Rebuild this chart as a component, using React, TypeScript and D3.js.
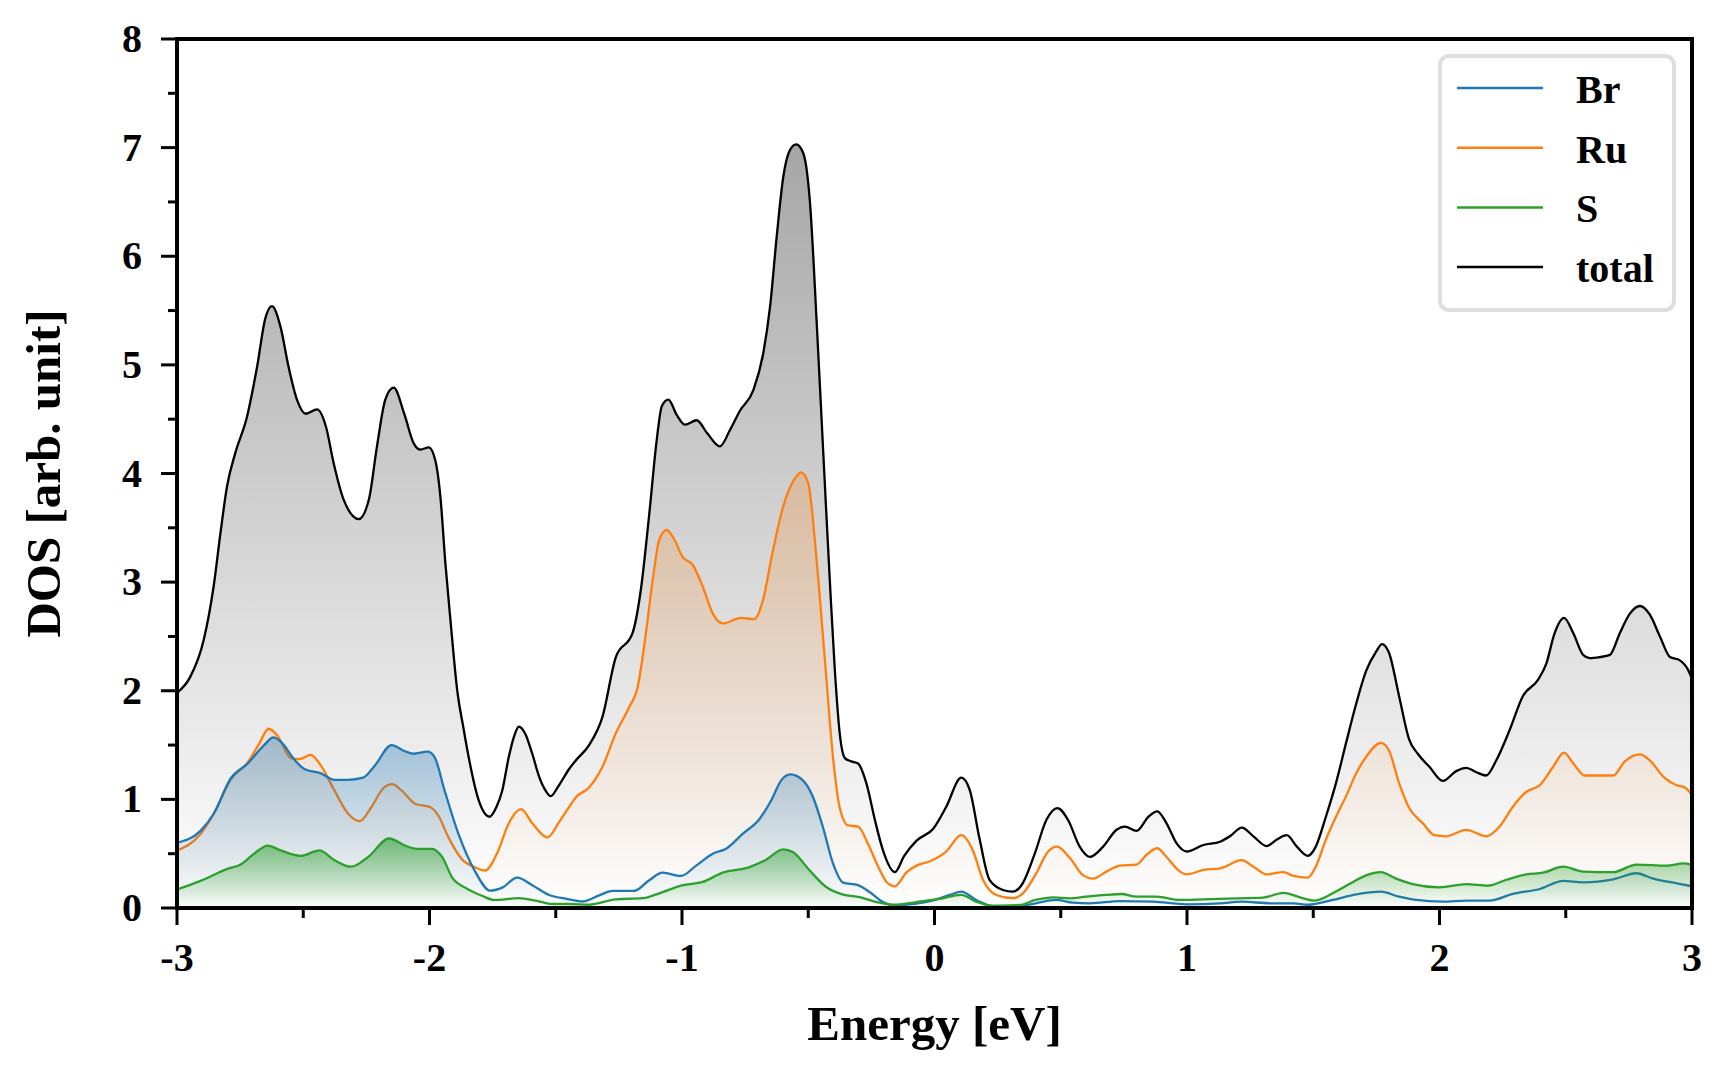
import React from "react";
import * as d3 from "d3";

// ---------- data (Energy [eV], DOS) ----------
const totalDos: [number, number][] = [
  [-3.0, 1.98], [-2.947, 2.13], [-2.894, 2.47], [-2.855, 2.96], [-2.828, 3.45], [-2.802, 3.88],
  [-2.769, 4.19], [-2.723, 4.52], [-2.683, 4.98], [-2.65, 5.43], [-2.624, 5.54], [-2.59, 5.35],
  [-2.558, 4.98], [-2.525, 4.68], [-2.49, 4.55], [-2.445, 4.59], [-2.41, 4.43], [-2.38, 4.1],
  [-2.34, 3.76], [-2.28, 3.58], [-2.24, 3.76], [-2.208, 4.25], [-2.175, 4.68], [-2.142, 4.79],
  [-2.1, 4.55], [-2.063, 4.28], [-2.036, 4.22], [-2.003, 4.24], [-1.977, 4.12], [-1.957, 3.79],
  [-1.937, 3.17], [-1.917, 2.65], [-1.89, 2.0], [-1.865, 1.65], [-1.845, 1.39], [-1.805, 0.99],
  [-1.762, 0.84], [-1.735, 0.93], [-1.712, 1.08], [-1.686, 1.39], [-1.665, 1.58], [-1.646, 1.67],
  [-1.62, 1.6], [-1.593, 1.42], [-1.566, 1.21], [-1.54, 1.08], [-1.52, 1.03], [-1.49, 1.12],
  [-1.447, 1.28], [-1.42, 1.36], [-1.368, 1.5], [-1.315, 1.76], [-1.262, 2.31], [-1.196, 2.53],
  [-1.163, 2.93], [-1.13, 3.62], [-1.1, 4.31], [-1.08, 4.62], [-1.054, 4.68], [-1.021, 4.54],
  [-0.988, 4.45], [-0.942, 4.49], [-0.9, 4.37], [-0.85, 4.25], [-0.81, 4.4], [-0.77, 4.58],
  [-0.717, 4.77], [-0.678, 5.11], [-0.651, 5.54], [-0.625, 6.18], [-0.599, 6.73], [-0.572, 6.98],
  [-0.548, 7.03], [-0.52, 6.95], [-0.493, 6.49], [-0.467, 5.41], [-0.447, 4.49], [-0.427, 3.57],
  [-0.412, 2.9], [-0.395, 2.2], [-0.375, 1.6], [-0.355, 1.38], [-0.33, 1.35], [-0.303, 1.33],
  [-0.27, 1.15], [-0.235, 0.8], [-0.204, 0.53], [-0.157, 0.33], [-0.12, 0.48], [-0.071, 0.62],
  [-0.005, 0.73], [0.046, 0.93], [0.106, 1.2], [0.139, 1.09], [0.179, 0.63], [0.218, 0.26],
  [0.271, 0.166], [0.31, 0.15], [0.35, 0.23], [0.397, 0.5], [0.443, 0.81], [0.487, 0.92],
  [0.529, 0.81], [0.575, 0.565], [0.615, 0.47], [0.668, 0.565], [0.721, 0.72], [0.754, 0.75],
  [0.8, 0.71], [0.847, 0.84], [0.882, 0.89], [0.919, 0.78], [0.959, 0.595], [0.999, 0.52],
  [1.065, 0.58], [1.131, 0.61], [1.17, 0.66], [1.217, 0.74], [1.263, 0.66], [1.316, 0.57],
  [1.356, 0.63], [1.395, 0.67], [1.435, 0.565], [1.478, 0.48], [1.51, 0.565], [1.55, 0.84],
  [1.59, 1.15], [1.63, 1.52], [1.67, 1.88], [1.709, 2.18], [1.749, 2.36], [1.772, 2.43],
  [1.8, 2.35], [1.84, 1.95], [1.88, 1.55], [1.914, 1.42], [1.96, 1.3], [2.013, 1.17],
  [2.066, 1.26], [2.106, 1.29], [2.146, 1.25], [2.185, 1.22], [2.225, 1.36], [2.278, 1.64],
  [2.33, 1.95], [2.39, 2.1], [2.423, 2.25], [2.456, 2.53], [2.493, 2.67], [2.53, 2.53],
  [2.569, 2.33], [2.595, 2.3], [2.635, 2.31], [2.675, 2.33], [2.714, 2.53], [2.754, 2.71],
  [2.794, 2.78], [2.833, 2.7], [2.873, 2.5], [2.913, 2.31], [2.952, 2.28], [2.985, 2.19],
  [3.0, 2.11],
];

const ruDos: [number, number][] = [
  [-3.0, 0.53], [-2.907, 0.68], [-2.854, 0.87], [-2.788, 1.18], [-2.72, 1.34], [-2.675, 1.51],
  [-2.637, 1.65], [-2.6, 1.58], [-2.549, 1.38], [-2.515, 1.37], [-2.47, 1.41], [-2.43, 1.31],
  [-2.376, 1.08], [-2.323, 0.87], [-2.277, 0.8], [-2.23, 0.93], [-2.184, 1.1], [-2.148, 1.14],
  [-2.11, 1.08], [-2.057, 0.96], [-1.998, 0.93], [-1.965, 0.85], [-1.925, 0.65], [-1.872, 0.45],
  [-1.82, 0.375], [-1.78, 0.345], [-1.733, 0.5], [-1.686, 0.78], [-1.637, 0.91], [-1.593, 0.78],
  [-1.533, 0.65], [-1.487, 0.79], [-1.447, 0.93], [-1.42, 1.02], [-1.368, 1.11], [-1.315, 1.3],
  [-1.262, 1.61], [-1.209, 1.85], [-1.176, 2.03], [-1.143, 2.53], [-1.116, 3.02], [-1.09, 3.39],
  [-1.061, 3.48], [-1.03, 3.39], [-0.997, 3.23], [-0.958, 3.16], [-0.918, 2.96], [-0.878, 2.71],
  [-0.839, 2.62], [-0.766, 2.67], [-0.713, 2.66], [-0.68, 2.83], [-0.64, 3.29], [-0.6, 3.69],
  [-0.554, 3.95], [-0.528, 4.01], [-0.5, 3.91], [-0.468, 3.23], [-0.435, 2.31], [-0.402, 1.39],
  [-0.376, 0.93], [-0.342, 0.76], [-0.303, 0.75], [-0.263, 0.59], [-0.223, 0.38], [-0.19, 0.24],
  [-0.157, 0.2], [-0.11, 0.33], [-0.071, 0.39], [-0.018, 0.43], [0.046, 0.52], [0.106, 0.67],
  [0.152, 0.53], [0.192, 0.26], [0.245, 0.12], [0.31, 0.09], [0.35, 0.135], [0.403, 0.32],
  [0.45, 0.52], [0.485, 0.565], [0.536, 0.46], [0.589, 0.3], [0.628, 0.27], [0.681, 0.335],
  [0.734, 0.39], [0.8, 0.4], [0.84, 0.49], [0.882, 0.55], [0.919, 0.47], [0.972, 0.335],
  [0.999, 0.31], [1.065, 0.35], [1.131, 0.365], [1.217, 0.44], [1.263, 0.38], [1.316, 0.31],
  [1.382, 0.33], [1.422, 0.295], [1.478, 0.28], [1.51, 0.38], [1.55, 0.63], [1.59, 0.84],
  [1.63, 1.03], [1.67, 1.24], [1.709, 1.39], [1.768, 1.52], [1.8, 1.45], [1.84, 1.15],
  [1.88, 0.92], [1.934, 0.78], [1.98, 0.67], [2.026, 0.66], [2.106, 0.72], [2.185, 0.66],
  [2.238, 0.75], [2.29, 0.93], [2.344, 1.07], [2.397, 1.13], [2.45, 1.3], [2.493, 1.43],
  [2.53, 1.33], [2.575, 1.22], [2.635, 1.22], [2.688, 1.22], [2.734, 1.35], [2.794, 1.415],
  [2.833, 1.36], [2.886, 1.21], [2.94, 1.13], [2.972, 1.11], [3.0, 1.04],
];

const brDos: [number, number][] = [
  [-3.0, 0.6], [-2.907, 0.71], [-2.854, 0.87], [-2.788, 1.19], [-2.72, 1.33], [-2.655, 1.5],
  [-2.618, 1.57], [-2.58, 1.51], [-2.54, 1.38], [-2.496, 1.28], [-2.43, 1.24], [-2.376, 1.18],
  [-2.323, 1.18], [-2.263, 1.2], [-2.217, 1.31], [-2.15, 1.5], [-2.104, 1.45], [-2.064, 1.42],
  [-2.007, 1.44], [-1.98, 1.39], [-1.94, 1.08], [-1.885, 0.68], [-1.82, 0.34], [-1.76, 0.16],
  [-1.71, 0.19], [-1.653, 0.28], [-1.593, 0.21], [-1.526, 0.12], [-1.46, 0.086], [-1.394, 0.06],
  [-1.328, 0.117], [-1.275, 0.157], [-1.19, 0.157], [-1.13, 0.255], [-1.077, 0.325], [-1.004, 0.295],
  [-0.944, 0.39], [-0.878, 0.5], [-0.825, 0.546], [-0.759, 0.684], [-0.693, 0.82], [-0.647, 0.99],
  [-0.607, 1.175], [-0.571, 1.23], [-0.521, 1.175], [-0.481, 1.02], [-0.442, 0.746], [-0.402, 0.41],
  [-0.362, 0.233], [-0.303, 0.21], [-0.257, 0.147], [-0.204, 0.055], [-0.164, 0.025], [-0.071, 0.04],
  [-0.005, 0.07], [0.06, 0.12], [0.106, 0.15], [0.165, 0.074], [0.23, 0.02], [0.337, 0.02],
  [0.4, 0.043], [0.48, 0.074], [0.549, 0.049], [0.615, 0.043], [0.734, 0.064], [0.866, 0.058],
  [0.999, 0.034], [1.131, 0.043], [1.217, 0.058], [1.33, 0.043], [1.422, 0.043], [1.48, 0.03],
  [1.577, 0.074], [1.67, 0.126], [1.768, 0.15], [1.84, 0.104], [1.907, 0.074], [2.013, 0.058],
  [2.106, 0.068], [2.198, 0.068], [2.29, 0.13], [2.397, 0.175], [2.49, 0.25], [2.569, 0.236],
  [2.688, 0.264], [2.78, 0.32], [2.846, 0.27], [2.94, 0.227], [3.0, 0.2],
];

const sDos: [number, number][] = [
  [-3.0, 0.17], [-2.907, 0.25], [-2.8, 0.36], [-2.748, 0.4], [-2.695, 0.5], [-2.64, 0.575],
  [-2.59, 0.53], [-2.51, 0.48], [-2.436, 0.53], [-2.376, 0.44], [-2.31, 0.38], [-2.243, 0.47],
  [-2.16, 0.64], [-2.097, 0.575], [-2.05, 0.545], [-1.99, 0.545], [-1.95, 0.47], [-1.91, 0.28],
  [-1.857, 0.185], [-1.79, 0.11], [-1.745, 0.074], [-1.646, 0.09], [-1.58, 0.068], [-1.513, 0.037],
  [-1.447, 0.037], [-1.368, 0.03], [-1.262, 0.08], [-1.156, 0.09], [-1.077, 0.147], [-0.997, 0.21],
  [-0.918, 0.24], [-0.839, 0.325], [-0.733, 0.377], [-0.667, 0.445], [-0.6, 0.54], [-0.561, 0.515],
  [-0.495, 0.347], [-0.429, 0.193], [-0.362, 0.123], [-0.296, 0.1], [-0.23, 0.055], [-0.164, 0.03],
  [-0.071, 0.055], [0.02, 0.083], [0.106, 0.12], [0.165, 0.058], [0.23, 0.02], [0.337, 0.028],
  [0.4, 0.074], [0.47, 0.098], [0.536, 0.089], [0.6, 0.104], [0.68, 0.12], [0.74, 0.129],
  [0.8, 0.104], [0.88, 0.104], [0.972, 0.074], [1.065, 0.08], [1.197, 0.089], [1.3, 0.095],
  [1.382, 0.14], [1.46, 0.089], [1.504, 0.068], [1.577, 0.135], [1.643, 0.22], [1.709, 0.3],
  [1.768, 0.33], [1.828, 0.27], [1.894, 0.22], [2.0, 0.19], [2.106, 0.22], [2.192, 0.205],
  [2.265, 0.26], [2.344, 0.31], [2.41, 0.325], [2.49, 0.38], [2.569, 0.335], [2.688, 0.33],
  [2.78, 0.4], [2.9, 0.39], [2.966, 0.41], [3.0, 0.4],
];

const xMajorTicks = [-3, -2, -1, 0, 1, 2, 3];
const xMinorTicks = [-2.5, -1.5, -0.5, 0.5, 1.5, 2.5];
const yMajorTicks = [0, 1, 2, 3, 4, 5, 6, 7, 8];
const yMinorTicks = [0.5, 1.5, 2.5, 3.5, 4.5, 5.5, 6.5, 7.5];

const seriesNames = ["Br", "Ru", "S", "total"];
const seriesColors = ["#1f77b4", "#ff7f0e", "#2ca02c", "#000000"];
const fillColors = ["#1f77b4", "#ff7f0e", "#2ca02c", "#000000"];
const fillMaxOpacity = [0.38, 0.24, 0.6, 0.35];

// ---------- layout ----------
const W = 1728;
const H = 1080;
const L = 177;
const R = 1692;
const T = 39;
const B = 908;
const FONT = "'Liberation Serif', 'Times New Roman', Times, serif";

export default function App() {
  const x = d3.scaleLinear().domain([-3, 3]).range([L, R]);
  const y = d3.scaleLinear().domain([0, 8]).range([B, T]);

  const line = d3
    .line<[number, number]>()
    .x((d) => x(d[0]))
    .y((d) => y(d[1]))
    .curve(d3.curveMonotoneX);
  const area = d3
    .area<[number, number]>()
    .x((d) => x(d[0]))
    .y0(y(0))
    .y1((d) => y(d[1]))
    .curve(d3.curveMonotoneX);

  const data = [brDos, ruDos, sDos, totalDos];
  // draw order: total, Ru, Br, S
  const order = [3, 1, 0, 2];

  return (
    <svg
      width={W}
      height={H}
      viewBox={`0 0 ${W} ${H}`}
      style={{ position: "absolute", left: 0, top: 0, background: "#fff" }}
      fontFamily={FONT}
    >
      <defs>
        <clipPath id="plotClip">
          <rect x={L} y={T} width={R - L} height={B - T} />
        </clipPath>
        {data.map((d, i) => {
          const mx = d3.max(d, (p) => p[1]) as number;
          return (
            <linearGradient
              key={i}
              id={`grad${i}`}
              gradientUnits="userSpaceOnUse"
              x1={0}
              x2={0}
              y1={y(0)}
              y2={y(mx)}
            >
              <stop offset="0" stopColor={fillColors[i]} stopOpacity={0} />
              <stop offset="1" stopColor={fillColors[i]} stopOpacity={fillMaxOpacity[i]} />
            </linearGradient>
          );
        })}
      </defs>
      <rect x={0} y={0} width={W} height={H} fill="#fff" />

      <g clipPath="url(#plotClip)">
        {order.map((i) => (
          <g key={i}>
            <path d={area(data[i]) || ""} fill={`url(#grad${i})`} stroke="none" />
            <path d={line(data[i]) || ""} fill="none" stroke={seriesColors[i]} strokeWidth={2.3} />
          </g>
        ))}
      </g>

      {/* ticks */}
      <g stroke="#000" strokeWidth={3}>
        {xMajorTicks.map((t) => (
          <line key={`xM${t}`} x1={x(t)} x2={x(t)} y1={B} y2={B + 17} />
        ))}
        {xMinorTicks.map((t) => (
          <line key={`xm${t}`} x1={x(t)} x2={x(t)} y1={B} y2={B + 10} />
        ))}
        {yMajorTicks.map((t) => (
          <line key={`yM${t}`} x1={L} x2={L - 16} y1={y(t)} y2={y(t)} />
        ))}
        {yMinorTicks.map((t) => (
          <line key={`ym${t}`} x1={L} x2={L - 9} y1={y(t)} y2={y(t)} />
        ))}
      </g>

      {/* spines */}
      <rect x={L} y={T} width={R - L} height={B - T} fill="none" stroke="#000" strokeWidth={4} />

      {/* tick labels */}
      <g fontSize={40} fontWeight="bold" fill="#000">
        {xMajorTicks.map((t) => (
          <text key={`xl${t}`} x={x(t)} y={971} textAnchor="middle">
            {String(t)}
          </text>
        ))}
        {yMajorTicks.map((t) => (
          <text key={`yl${t}`} x={142} y={y(t) + 13} textAnchor="end">
            {String(t)}
          </text>
        ))}
      </g>

      {/* axis labels */}
      <text x={(L + R) / 2} y={1040} textAnchor="middle" fontSize={49} fontWeight="bold">
        Energy [eV]
      </text>
      <text
        transform={`translate(60, ${(T + B) / 2}) rotate(-90)`}
        textAnchor="middle"
        fontSize={49}
        fontWeight="bold"
      >
        DOS [arb. unit]
      </text>

      {/* legend */}
      <rect x={1440} y={56} width={234} height={254} rx={9} ry={9} fill="#fff" fillOpacity={0.9} stroke="#dedede" strokeWidth={4} />
      {seriesNames.map((name, i) => {
        const ly = 88 + i * 59.7;
        return (
          <g key={name}>
            <line x1={1457} x2={1543} y1={ly} y2={ly} stroke={seriesColors[i]} strokeWidth={2.5} />
            <text x={1576} y={ly + 15} fontSize={40} fontWeight="bold">
              {name}
            </text>
          </g>
        );
      })}
    </svg>
  );
}
